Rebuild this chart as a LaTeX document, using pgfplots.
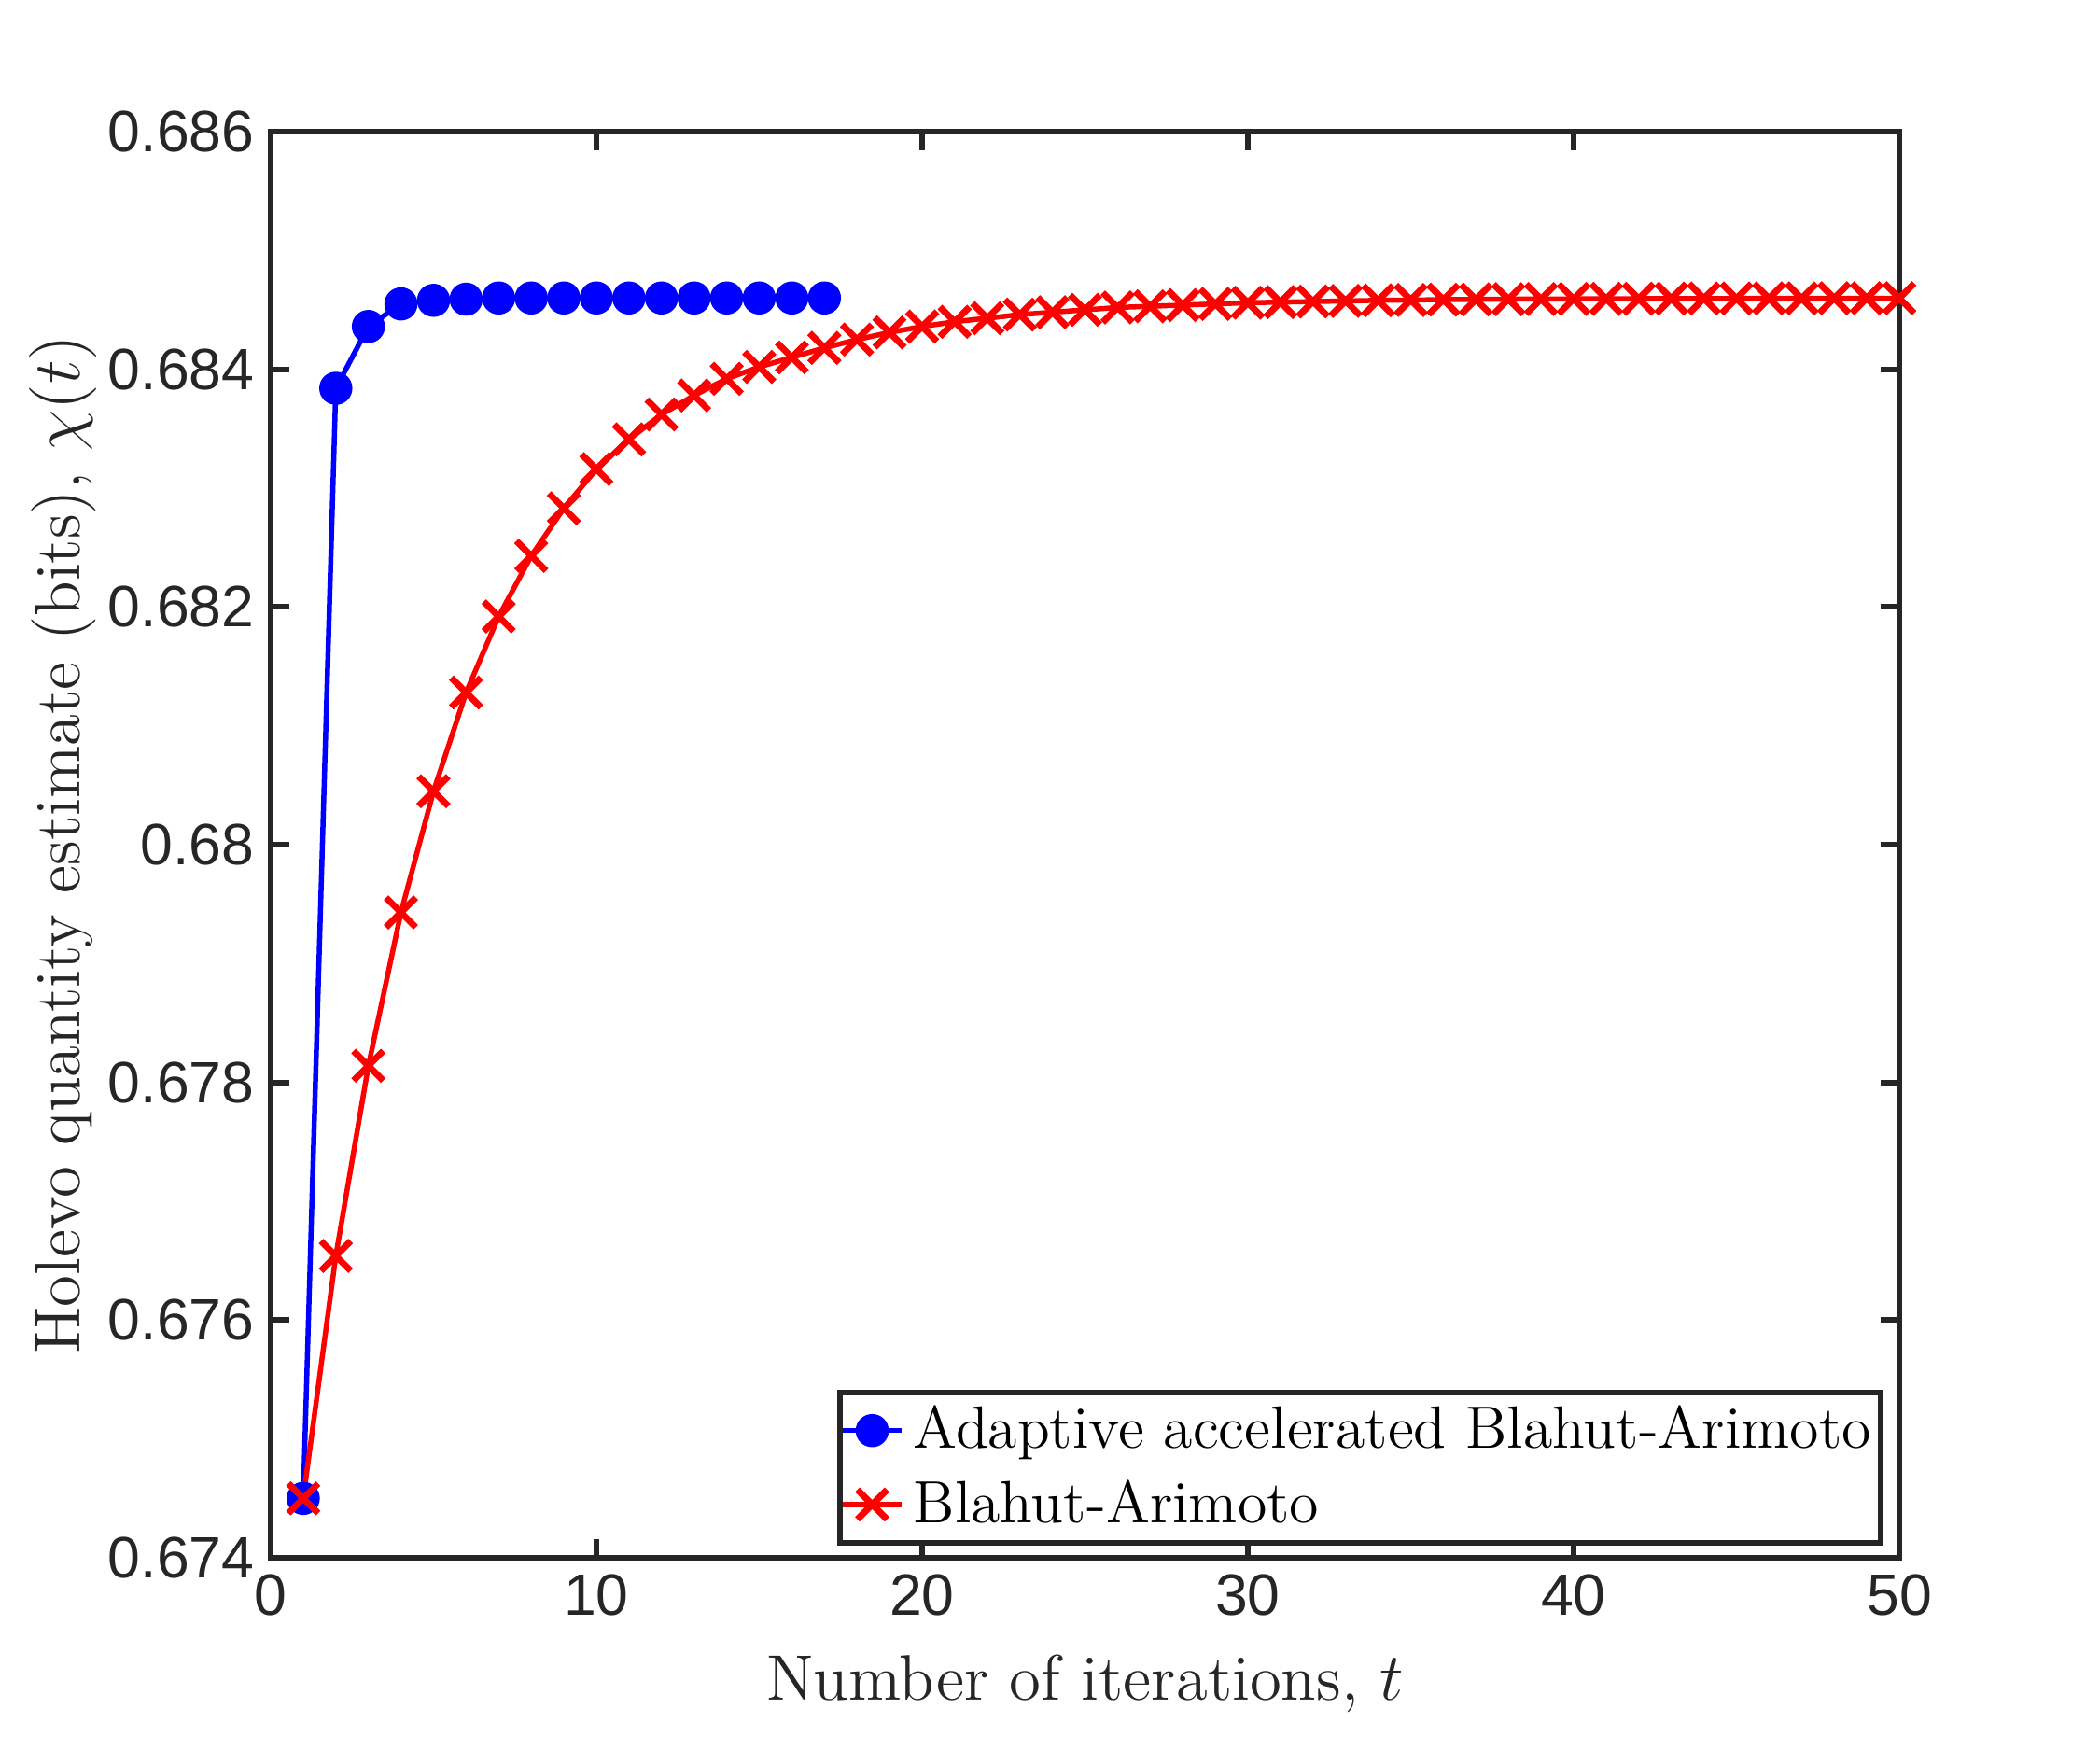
\documentclass[border=0pt]{standalone}
\usepackage{pgfplots}
\pgfplotsset{compat=1.18}
\usepackage{fontspec}
\newfontfamily\ticksf{Liberation Sans}
\definecolor{axgray}{HTML}{262626}

\begin{document}
\begin{tikzpicture}
\begin{axis}[
  name=ax,
  scale only axis,
  width=349pt, height=305.6pt,
  xmin=0, xmax=50, ymin=0.674, ymax=0.686,
  xtick={0,10,20,30,40,50},
  ytick={0.674,0.676,0.678,0.680,0.682,0.684,0.686},
  yticklabels={0.674,0.676,0.678,0.68,0.682,0.684,0.686},
  scaled y ticks=false,
  tick align=inside,
  major tick length=4pt,
  tick style={axgray, line width=1.2pt},
  axis line style={axgray, line width=1.2pt},
  /pgf/number format/assume math mode=true,
  tick label style={font=\ticksf\fontsize{12.5}{15}\selectfont, text=axgray},
  xlabel={Number of iterations, $t$},
  ylabel={Holevo quantity estimate (bits), $\chi(t)$},
  label style={font=\fontsize{13.8}{16}\selectfont, text=axgray},
  xlabel style={yshift=-1.5pt},
  ylabel style={yshift=-4.3pt},
  legend style={at={(rel axis cs:1,0)}, anchor=south east,
    xshift=-3.4pt, yshift=2.7pt,
    draw=axgray, line width=1.2pt, fill=white,
    font=\fontsize{12.8}{15}\selectfont,
    row sep=1.2pt, inner xsep=0pt, inner ysep=0.8pt,
    cells={anchor=west}},
  legend image code/.code={%
    \draw[#1, mark repeat=2, mark phase=2] plot coordinates {(0pt,0pt) (6.3pt,0pt) (12.6pt,0pt)};},
]
\addplot[blue, line width=1.1pt, mark=*, mark size=3pt, mark options={fill=blue, draw=blue}]
coordinates {
(1,0.67450) (2,0.68384) (3,0.68436) (4,0.68455) (5,0.68458) (6,0.68459)
(7,0.68460) (8,0.68460) (9,0.68460) (10,0.68460) (11,0.68460) (12,0.68460)
(13,0.68460) (14,0.68460) (15,0.68460) (16,0.68460) (17,0.68460)
};
\addlegendentry{Adaptive accelerated Blahut-Arimoto}

\addplot[red, line width=1.1pt, mark=x, mark size=4.5pt, mark options={line width=1.4pt}]
coordinates {
(1,0.67450) (2,0.67654) (3,0.67814) (4,0.67943) (5,0.68045)
(6,0.68128) (7,0.68192) (8,0.68243) (9,0.68283) (10,0.68316)
(11,0.68341) (12,0.68362) (13,0.68378) (14,0.68392) (15,0.68402)
(16,0.68410) (17,0.68418) (18,0.68425) (19,0.68431) (20,0.68436)
(21,0.68440) (22,0.68443) (23,0.68446) (24,0.68448) (25,0.68450)
(26,0.68452) (27,0.68453) (28,0.68454) (29,0.68455) (30,0.68456)
(31,0.684565) (32,0.68457) (33,0.684575) (34,0.68458) (35,0.684583)
(36,0.684586) (37,0.684588) (38,0.68459) (39,0.684591) (40,0.684592)
(41,0.684593) (42,0.684594) (43,0.684595) (44,0.684596) (45,0.684596)
(46,0.684597) (47,0.684597) (48,0.684598) (49,0.684598) (50,0.684598)
};
\addlegendentry{Blahut-Arimoto}
\end{axis}
% figure margins around the axis box
\path ([xshift=-58pt, yshift=-41.2pt]ax.south west) rectangle ([xshift=43pt, yshift=28.2pt]ax.north east);
\end{tikzpicture}
\end{document}
